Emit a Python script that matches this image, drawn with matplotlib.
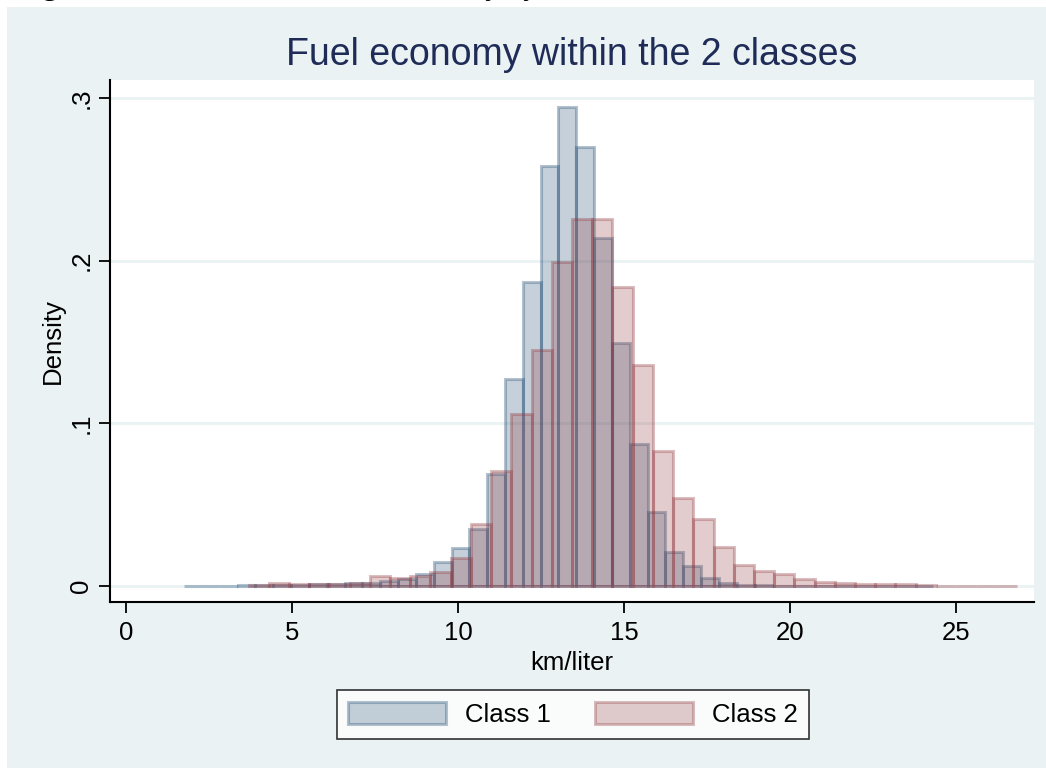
import numpy as np
import matplotlib
matplotlib.use("Agg")
import matplotlib.pyplot as plt
from matplotlib.patches import Rectangle

plt.rcParams['font.family'] = ['Liberation Sans', 'DejaVu Sans']

# histogram bins: start, width and density of each bar
start1 = 1.75
width1 = 0.537
dens1 = [0.0003, 0.0003, 0.0003, 0.0004, 0.0005, 0.0005, 0.0008, 0.001, 0.0015,
         0.002, 0.002, 0.003, 0.0043, 0.0074, 0.0146, 0.0236, 0.0349, 0.0686,
         0.127, 0.187, 0.258, 0.2946, 0.270, 0.214, 0.1496, 0.0873, 0.0457,
         0.0211, 0.0125, 0.0051, 0.002, 0.0008, 0.0005, 0.0003, 0.0002, 0.0002,
         0.0002, 0.0002, 0.0002, 0.0002, 0.0002, 0.0002]

start2 = 3.69
width2 = 0.609
dens2 = [0.0008, 0.0016, 0.0012, 0.001, 0.0015, 0.002, 0.006, 0.005, 0.0063,
         0.0084, 0.017, 0.0381, 0.0707, 0.1057, 0.145, 0.199, 0.2256, 0.2256,
         0.184, 0.136, 0.083, 0.054, 0.0412, 0.0242, 0.0129, 0.0094, 0.0074,
         0.0041, 0.0027, 0.0018, 0.0014, 0.0012, 0.001, 0.0004, 0.0003, 0.0003,
         0.0002, 0.0002]

labels = ["Class 1", "Class 2"]
xticks = [0, 5, 10, 15, 20, 25]
yticks = [0, 0.1, 0.2, 0.3]
yticklabels = ["0", ".1", ".2", ".3"]

navy = (26/255, 71/255, 111/255)
maroon = (144/255, 53/255, 59/255)
bgcol = '#EAF2F3'

W, H = 1046, 768
fig = plt.figure(figsize=(W/100, H/100), dpi=100, facecolor='white')
fig.patches.append(Rectangle((7/W, 0), 1, 1 - 7/H, transform=fig.transFigure,
                             facecolor=bgcol, edgecolor='none', zorder=-10))

# caption line from the page above, mostly outside the frame
fig.text(17/W, 1 + 5/H, "Figure 3:  Distribution of fuel economy by rated for two classes of the rated class",
         family=['Liberation Serif', 'DejaVu Serif'], fontweight='bold', fontsize=21,
         ha='left', va='baseline', color='black')

ax = fig.add_axes([110/W, 1 - 602/H, (1034 - 110)/W, (602 - 80)/H])
ax.set_facecolor('white')

left1 = start1 + width1 * np.arange(len(dens1))
left2 = start2 + width2 * np.arange(len(dens2))

ax.bar(left1, dens1, width=width1, align='edge',
       facecolor=navy + (0.25,), edgecolor=navy + (0.32,), linewidth=2.2,
       label=labels[0], zorder=2)
ax.bar(left2, dens2, width=width2, align='edge',
       facecolor=maroon + (0.25,), edgecolor=maroon + (0.32,), linewidth=2.2,
       label=labels[1], zorder=3)

ax.set_xlim(-0.482, 27.35)
ax.set_ylim(-0.00983, 0.311)

for y in yticks:
    ax.axhline(y, color=bgcol, linewidth=2, zorder=1)

for side in ['top', 'right']:
    ax.spines[side].set_visible(False)
for side in ['left', 'bottom']:
    ax.spines[side].set_linewidth(1.5)
    ax.spines[side].set_color('black')

ax.set_xticks(xticks)
ax.set_xticklabels([str(t) for t in xticks])
ax.set_yticks(yticks)
ax.set_yticklabels(yticklabels, rotation=90, va='center')
ax.tick_params(axis='both', direction='out', length=8, width=1.3,
               labelsize=18.5, colors='black')
ax.tick_params(axis='x', pad=6)
ax.tick_params(axis='y', pad=4)

ax.set_xlabel("km/liter", fontsize=18.5, labelpad=4)
ax.set_ylabel("Density", fontsize=18.5, labelpad=3)

fig.text(572/W, 1 - 55/H, "Fuel economy within the 2 classes", fontsize=27,
         color='#1E2C57', ha='center', va='center')

leg = fig.legend(loc='center', bbox_to_anchor=(573/W, 1 - 714.5/H), ncol=2,
                 fontsize=18.5, frameon=True, fancybox=False, handlelength=3.8,
                 handleheight=0.95, handletextpad=0.75, columnspacing=1.7,
                 borderpad=0.45, borderaxespad=0)
leg.get_frame().set_edgecolor('black')
leg.get_frame().set_linewidth(1.2)
leg.get_frame().set_facecolor('white')

fig.savefig("out.png", dpi=100, facecolor=fig.get_facecolor())
